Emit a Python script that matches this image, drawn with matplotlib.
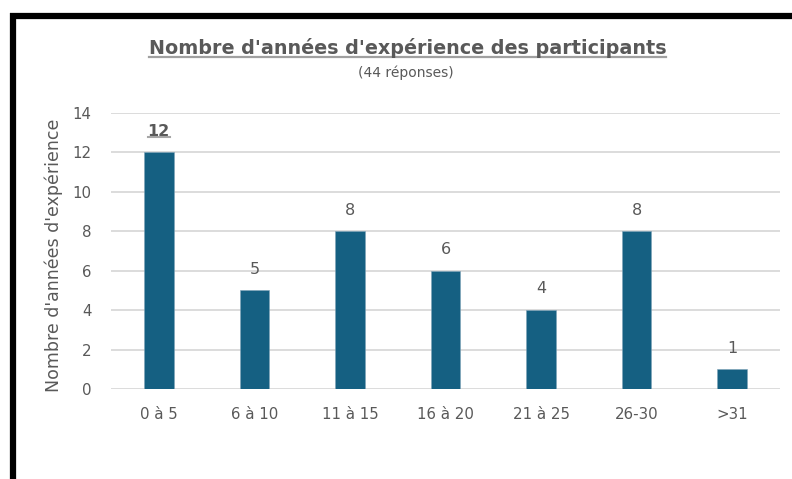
import matplotlib.pyplot as plt
from matplotlib.lines import Line2D

plt.rcParams['font.family'] = ['DejaVu Sans']

# données
categories = ['0 à 5', '6 à 10', '11 à 15', '16 à 20', '21 à 25', '26-30', '>31']
valeurs = [12, 5, 8, 6, 4, 8, 1]
yticks = [0, 2, 4, 6, 8, 10, 12, 14]

gris = '#595959'
W, H = 792, 479

fig = plt.figure(figsize=(W / 100, H / 100), dpi=100)
ax = fig.add_axes([111 / W, 1 - 389 / H, (780 - 111) / W, (389 - 113) / H])

x = range(len(categories))
ax.bar(x, valeurs, width=0.31, color='#156082', edgecolor='#7fa3b8', linewidth=0.4, zorder=3)

ax.set_ylim(0, 14)
ax.set_xlim(-0.5, len(categories) - 0.5)
ax.set_yticks(yticks)
ax.set_xticks(list(x))
ax.set_xticklabels(categories)
ax.tick_params(length=0, labelsize=10.8, colors=gris)
ax.tick_params(axis='x', pad=13)
ax.tick_params(axis='y', pad=14)
ax.grid(axis='y', color='#d9d9d9', linewidth=1.3, zorder=0)
for s in ax.spines.values():
    s.set_visible(False)

fig.text(54 / W, 1 - 255 / H, "Nombre d'années d'expérience", rotation=90,
         ha='center', va='center', fontsize=12.5, color=gris)

# étiquettes de données
decal = 12  # points au-dessus de la barre
for i, v in enumerate(valeurs):
    bold = v == max(valeurs)
    t = ax.annotate(str(v), (i, v), xytext=(0, decal), textcoords='offset points',
                    ha='center', va='baseline', fontsize=11.5, color=gris,
                    fontweight='bold' if bold else 'normal')
    if bold:
        fig.canvas.draw()
        bb = t.get_window_extent(fig.canvas.get_renderer())
        yb = ax.transData.transform((i, v))[1] + decal * 100 / 72 - 1.5
        fig.add_artist(Line2D([bb.x0 / W, bb.x1 / W], [yb / H, yb / H],
                              transform=fig.transFigure, color='#a6a6a6', linewidth=1.5))

titre = fig.text(407.5 / W, 1 - 54 / H, "Nombre d'années d'expérience des participants",
                 ha='center', va='baseline', fontsize=13.8, fontweight='bold', color=gris)
fig.text(406 / W, 1 - 77 / H, "(44 réponses)", ha='center', va='baseline',
         fontsize=10, color=gris)

# soulignement du titre
fig.canvas.draw()
bb = titre.get_window_extent(fig.canvas.get_renderer())
fig.add_artist(Line2D([bb.x0 / W, bb.x1 / W], [1 - 57 / H, 1 - 57 / H],
                      transform=fig.transFigure, color='#a0a0a0', linewidth=1.6))

# cadre noir (haut et gauche)
fig.add_artist(Line2D([10 / W, 1], [1 - 16 / H, 1 - 16 / H], transform=fig.transFigure,
                      color='black', linewidth=4.5, solid_capstyle='butt'))
fig.add_artist(Line2D([13 / W, 13 / W], [0, 1 - 13 / H], transform=fig.transFigure,
                      color='black', linewidth=4.5, solid_capstyle='butt'))

fig.savefig('out.png', dpi=100)
